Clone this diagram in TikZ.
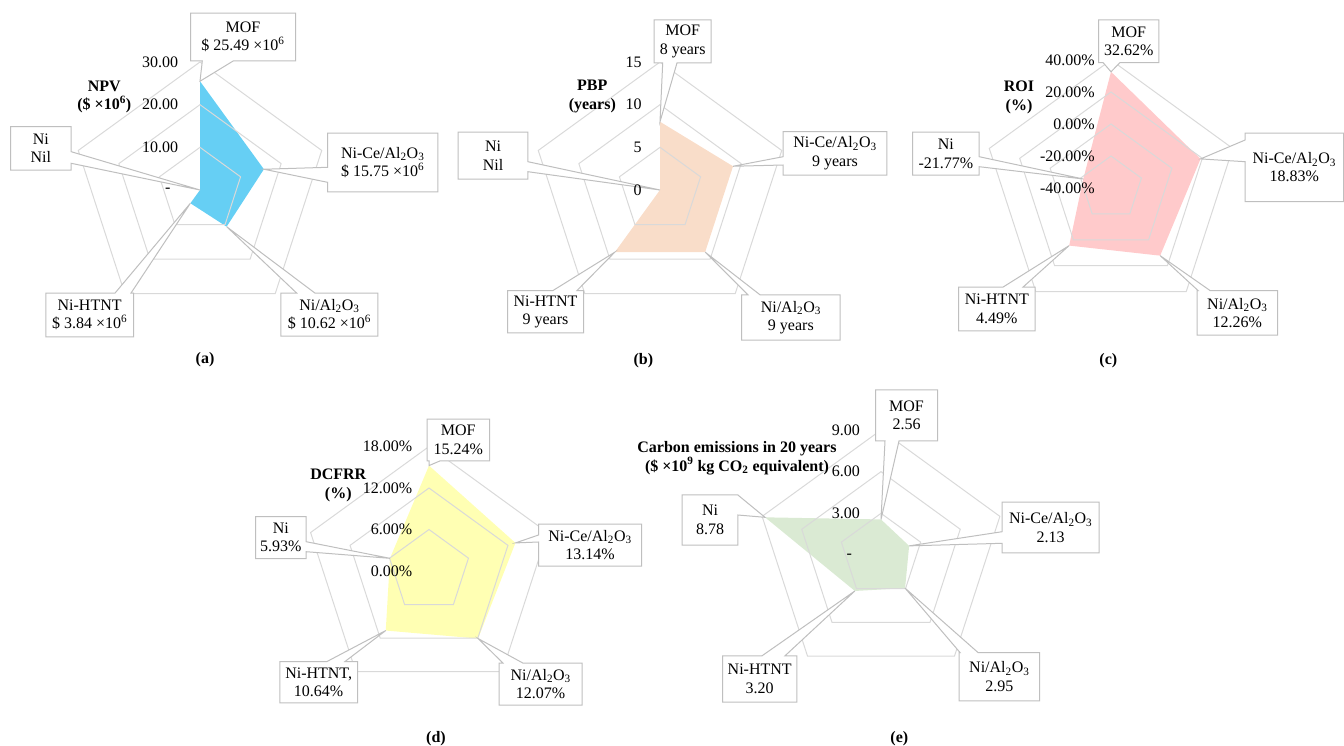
\documentclass[tikz,border=0pt]{standalone}
\usepackage{fontspec}
\setmainfont{Liberation Serif}
\definecolor{gridc}{HTML}{D9D9D9}
\definecolor{coc}{HTML}{BFBFBF}
\definecolor{fa}{HTML}{66CFF4}
\definecolor{fb}{HTML}{F9DDC9}
\definecolor{fc}{HTML}{FFCACB}
\definecolor{fd}{HTML}{FFFFB3}
\definecolor{fe}{HTML}{DAEAD3}
\pgfdeclarelayer{chart}
\pgfdeclarelayer{callouts}
\pgfsetlayers{chart,callouts,main}
\newcommand\lblf{\fontsize{16}{18.5}\selectfont}
\newcommand\AlO{Al\textsubscript{2}O\textsubscript{3}}
\newcommand\tensup[1]{×10\textsuperscript{#1}}
% callout outlines: #1 box node, #2 tip, #3 #4 base limits
\newcommand\coBot[4]{\filldraw[co] (#1.south west) -- (#1.north west) -- (#1.north east) -- (#1.south east) -- (#1.south -| #4,0) -- (#2) -- (#1.south -| #3,0) -- cycle;}
\newcommand\coTop[4]{\filldraw[co] (#1.north west) -- (#1.south west) -- (#1.south east) -- (#1.north east) -- (#1.north -| #4,0) -- (#2) -- (#1.north -| #3,0) -- cycle;}
\newcommand\coLeft[4]{\filldraw[co] (#1.north west) -- (#1.north east) -- (#1.south east) -- (#1.south west) -- (#1.west |- 0,#4) -- (#2) -- (#1.west |- 0,#3) -- cycle;}
\newcommand\coRight[4]{\filldraw[co] (#1.north east) -- (#1.north west) -- (#1.south west) -- (#1.south east) -- (#1.east |- 0,#4) -- (#2) -- (#1.east |- 0,#3) -- cycle;}
\tikzset{
  grid/.style={draw=gridc, line width=1pt},
  co/.style={fill=white, draw=coc, line width=1pt, line join=miter},
  box/.style 2 args={minimum width=#1pt, minimum height=#2pt, inner sep=0pt, align=center, font=\lblf},
  ring/.style={anchor=east, inner sep=0pt, font=\lblf},
  ttl/.style={align=center, inner sep=0pt, font=\lblf\bfseries},
}
\begin{document}
\begin{tikzpicture}[x=1pt, y=-1pt]
\useasboundingbox (0,0) rectangle (1344,745);

\begin{pgfonlayer}{chart}
% (a)
\begin{scope}[shift={(200,190)}]
  \coordinate (aO) at (0,0);
  \coordinate (aMOF) at (-90:108.76);
  \coordinate (aNiCe) at (-18:67.2);
  \coordinate (aNiAl) at (54:45.31);
  \coordinate (aHT) at (126:16.38);
  \fill[fa] (aMOF) -- (aNiCe) -- (aNiAl) -- (aHT) -- (aO) -- cycle;
  \foreach \r in {42.67,85.33,128} \draw[grid] (-90:\r) -- (-18:\r) -- (54:\r) -- (126:\r) -- (198:\r) -- cycle;
\end{scope}
% (b)
\begin{scope}[shift={(660,190)}]
  \coordinate (bO) at (0,0);
  \coordinate (bMOF) at (-90:68.27);
  \coordinate (bNiCe) at (-18:76.8);
  \coordinate (bNiAl) at (54:76.8);
  \coordinate (bHT) at (126:76.8);
  \fill[fb] (bMOF) -- (bNiCe) -- (bNiAl) -- (bHT) -- (bO) -- cycle;
  \foreach \r in {42.67,85.33,128} \draw[grid] (-90:\r) -- (-18:\r) -- (54:\r) -- (126:\r) -- (198:\r) -- cycle;
\end{scope}
% (c)
\begin{scope}[shift={(1111,188)}]
  \coordinate (cO) at (0,0);
  \coordinate (cMOF) at (-90:116.19);
  \coordinate (cNiCe) at (-18:94.13);
  \coordinate (cNiAl) at (54:83.62);
  \coordinate (cHT) at (126:71.18);
  \coordinate (cNi) at (198:29.17);
  \fill[fc] (cMOF) -- (cNiCe) -- (cNiAl) -- (cHT) -- (cNi) -- cycle;
  \foreach \r in {32,64,96,128} \draw[grid] (-90:\r) -- (-18:\r) -- (54:\r) -- (126:\r) -- (198:\r) -- cycle;
\end{scope}
% (d)
\begin{scope}[shift={(429,571)}]
  \coordinate (dO) at (0,0);
  \coordinate (dMOF) at (-90:105.41);
  \coordinate (dNiCe) at (-18:90.88);
  \coordinate (dNiAl) at (54:83.48);
  \coordinate (dHT) at (126:73.59);
  \coordinate (dNi) at (198:41.02);
  \fill[fd] (dMOF) -- (dNiCe) -- (dNiAl) -- (dHT) -- (dNi) -- cycle;
  \foreach \r in {41.5,83,124.5} \draw[grid] (-90:\r) -- (-18:\r) -- (54:\r) -- (126:\r) -- (198:\r) -- cycle;
\end{scope}
% (e)
\begin{scope}[shift={(881,555)}]
  \coordinate (eO) at (0,0);
  \coordinate (eMOF) at (-90:35.56);
  \coordinate (eNiCe) at (-18:29.58);
  \coordinate (eNiAl) at (54:40.97);
  \coordinate (eHT) at (126:44.44);
  \coordinate (eNi) at (198:121.94);
  \fill[fe] (eMOF) -- (eNiCe) -- (eNiAl) -- (eHT) -- (eNi) -- cycle;
  \foreach \r in {41.67,83.33,125} \draw[grid] (-90:\r) -- (-18:\r) -- (54:\r) -- (126:\r) -- (198:\r) -- cycle;
\end{scope}
\end{pgfonlayer}

% ---------- ring labels ----------
\node[ring] (aR3) at (178.3,62) {30.00};
\node[ring] (aR2) at (178.3,104.7) {20.00};
\node[ring] (aR1) at (178.3,147.3) {10.00};
\node[font=\lblf, inner sep=0pt] (aR0) at (167.7,190) {-};

\node[ring] (bR3) at (641.7,62) {15};
\node[ring] (bR2) at (641.7,104.7) {10};
\node[ring] (bR1) at (641.7,147.3) {5};
\node[ring] (bR0) at (641.7,190) {0};

\node[ring] (cR4) at (1095,60) {40.00\%};
\node[ring] (cR3) at (1095,92) {20.00\%};
\node[ring] (cR2) at (1095,124) {0.00\%};
\node[ring] (cR1) at (1095,156) {-20.00\%};
\node[ring] (cR0) at (1095,188) {-40.00\%};

\node[ring] (dR3) at (412.3,446.5) {18.00\%};
\node[ring] (dR2) at (412.3,488) {12.00\%};
\node[ring] (dR1) at (412.3,529.5) {6.00\%};
\node[ring] (dR0) at (412.3,571) {0.00\%};

\node[ring] (eR3) at (860,430) {9.00};
\node[ring] (eR2) at (860,471.7) {6.00};
\node[ring] (eR1) at (860,513.3) {3.00};
\node[font=\lblf, inner sep=0pt] (eR0) at (849.3,556) {-};

% ---------- titles ----------
\node[ttl] (aT) at (104.3,97) {NPV\\(\$ ×10\textsuperscript{6})};
\node[ttl] (bT) at (592.3,96.7) {PBP\\(years)};
\node[ttl] (cT) at (1019,97.3) {ROI\\(\%)};
\node[ttl] (dT) at (338.3,485.3) {DCFRR\\(\%)};
\node[ttl] (eT) at (737,458) {Carbon emissions in 20 years\\(\$ ×10\textsuperscript{9} kg CO\textsubscript{2} equivalent)};

\node[ttl] (capA) at (205,360) {(a)};
\node[ttl] (capB) at (643.3,361) {(b)};
\node[ttl] (capC) at (1108.3,361) {(c)};
\node[ttl] (capD) at (436,738.3) {(d)};
\node[ttl] (capE) at (899.3,738.3) {(e)};

% ---------- callout boxes ----------
\node[box={104.6}{47.4}] (aMOFb) at (243,37) {MOF\\\$ 25.49 \tensup{6}};
\node[box={60.3}{43.3}] (aNib) at (40.85,148.35) {Ni\\Nil};
\node[box={110}{58.4}] (aNiCeb) at (382.7,162.5) {Ni-Ce/\AlO\\\$ 15.75 \tensup{6}};
\node[box={96.7}{42.7}] (aNiAlb) at (329.35,314.65) {Ni/\AlO\\\$ 10.62 \tensup{6}};
\node[box={87.3}{43.4}] (aHTb) at (89.65,315) {Ni-HTNT\\\$ 3.84 \tensup{6}};

\node[box={56.7}{42.7}] (bMOFb) at (682.65,41.35) {MOF\\8 years};
\node[box={69.4}{46.7}] (bNib) at (493,155.65) {Ni\\Nil};
\node[box={103.4}{43.3}] (bNiCeb) at (835,153.35) {Ni-Ce/\AlO\\9 years};
\node[box={98.3}{45}] (bNiAlb) at (790.85,317.5) {Ni/\AlO\\9 years};
\node[box={75.6}{42}] (bHTb) at (545.5,311.7) {Ni-HTNT\\9 years};

\node[box={60}{42.3}] (cMOFb) at (1128.7,41.15) {MOF\\32.62\%};
\node[box={66.3}{42.7}] (cNib) at (945.85,153.65) {Ni\\-21.77\%};
\node[box={98}{68}] (cNiCeb) at (1294.3,167.3) {Ni-Ce/\AlO\\18.83\%};
\node[box={80}{44.3}] (cNiAlb) at (1237.3,312.85) {Ni/\AlO\\12.26\%};
\node[box={76.3}{43.4}] (cHTb) at (996.85,309) {Ni-HTNT\\4.49\%};

\node[box={62}{41.4}] (dMOFb) at (458.3,440) {MOF\\15.24\%};
\node[box={50.3}{41.6}] (dNib) at (280.85,537.5) {Ni\\5.93\%};
\node[box={102.6}{41.7}] (dNiCeb) at (590,545.15) {Ni-Ce/\AlO\\13.14\%};
\node[box={82.7}{41.7}] (dNiAlb) at (540.65,684.15) {Ni/\AlO\\12.07\%};
\node[box={77.3}{41}] (dHTb) at (318.65,682.2) {Ni-HTNT,\\10.64\%};

\node[box={61.6}{50.7}] (eMOFb) at (906.5,415.35) {MOF\\2.56};
\node[box={55.4}{50}] (eNib) at (710,520) {Ni\\8.78};
\node[box={96.7}{50.4}] (eNiCeb) at (1050.65,527.5) {Ni-Ce/\AlO\\2.13};
\node[box={80}{48}] (eNiAlb) at (999.3,676.7) {Ni/\AlO\\2.95};
\node[box={74}{46}] (eHTb) at (759.7,679) {Ni-HTNT\\3.20};

% ---------- callout outlines ----------
\begin{pgfonlayer}{callouts}
\coBot{aMOFb}{aMOF}{202.3}{233.3}
\coRight{aNib}{aO}{151.7}{163.3}
\coLeft{aNiCeb}{aNiCe}{167.3}{182.3}
\coTop{aNiAlb}{aNiAl}{296.7}{315}
\coTop{aHTb}{aHT}{115}{131}

\coBot{bMOFb}{bMOF}{662.7}{677}
\coRight{bNib}{bO}{161.7}{171.7}
\coLeft{bNiCeb}{bNiCe}{156.7}{165}
\coTop{bNiAlb}{bNiAl}{748}{760}
\coTop{bHTb}{bHT}{553}{577}

\coBot{cMOFb}{cMOF}{1103}{1120}
\coRight{cNib}{cNi}{156.7}{166.7}
\coLeft{cNiCeb}{cNiCe}{140}{161.7}
\coTop{cNiAlb}{cNiAl}{1198}{1210}
\coTop{cHTb}{cHT}{1003}{1023}

\coBot{dMOFb}{dMOF}{429}{440}
\coRight{dNib}{dNi}{541.7}{551.7}
\coLeft{dNiCeb}{dNiCe}{535}{542}
\coTop{dNiAlb}{dNiAl}{503}{523}
\coTop{dHTb}{dHT}{327}{345}

\coBot{eMOFb}{eMOF}{885}{899}
\coRight{eNib}{eNi}{495}{515}
\coLeft{eNiCeb}{eNiCe}{531.7}{543.3}
\coTop{eNiAlb}{eNiAl}{960}{978}
\coTop{eHTb}{eHT}{762}{785}
\end{pgfonlayer}
\end{tikzpicture}
\end{document}
